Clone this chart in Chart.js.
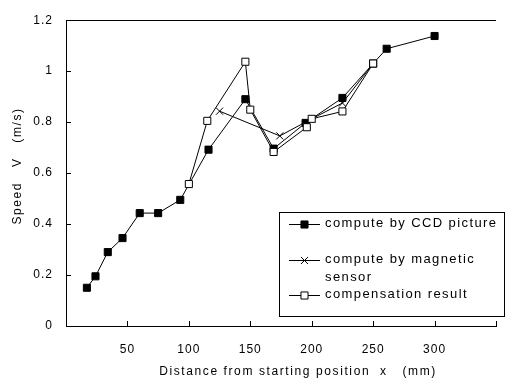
<!DOCTYPE html>
<html>
<head>
<meta charset="utf-8">
<script src="https://cdn.jsdelivr.net/npm/chart.js@4.4.1/dist/chart.umd.min.js"></script>
<style>
  html, body { margin: 0; padding: 0; background: #fff; overflow: hidden; }
  #wrap { width: 512px; height: 380px; }
</style>
</head>
<body>
<div id="wrap"><canvas id="speedChart"></canvas></div>
<script>
// ─── DATA ───────────────────────────────
// distance (mm) / speed (m/s) for each method
const ccdX  = [17, 24, 34, 46, 60, 75, 93, 116, 146, 169, 195, 225, 250, 261, 300];
const ccdV  = [0.15, 0.195, 0.29, 0.345, 0.443, 0.443, 0.495, 0.692, 0.89, 0.696, 0.797, 0.895, 1.03, 1.088, 1.138];

const magX  = [125, 174, 200, 225, 250];
const magV  = [0.843, 0.746, 0.813, 0.875, 1.03];

const compX = [100, 115, 146, 150, 169, 196, 200, 225, 250];
const compV = [0.557, 0.805, 1.037, 0.849, 0.683, 0.78, 0.813, 0.842, 1.03];

const seriesNames = ['compute by CCD picture', ['compute by magnetic', 'sensor'], 'compensation result'];
const xTickLabels = ['50', '100', '150', '200', '250', '300'];
const yTickLabels = ['0', '0.2', '0.4', '0.6', '0.8', '1', '1.2'];
const xTitle = 'Distance from starting position  x   (mm)';
const yTitle = 'Speed   V   (m/s)';

const pts = (xs, ys) => xs.map((x, i) => ({ x, y: ys[i] }));
const FONT = '"Liberation Sans", Arial, sans-serif';


// ─── WIDE LETTER SPACING FOR TICK TEXT ──
const spacing = {
  id: 'spacing',
  beforeDraw(chart) { chart.ctx.letterSpacing = '1px'; },
  afterDraw(chart)  { chart.ctx.letterSpacing = '0px'; }
};

// ─── INWARD TICKS, TITLES, LEGEND ───────
const decorations = {
  id: 'decorations',
  afterDraw(chart) {
    const { ctx, chartArea: a, scales: { x, y } } = chart;
    ctx.save();
    ctx.strokeStyle = '#000';
    ctx.lineWidth = 1;

    // tick marks pointing into the plot
    ctx.beginPath();
    y.ticks.forEach(t => {
      if (t.value === 0) return;
      const py = Math.round(y.getPixelForValue(t.value)) + 0.5;
      ctx.moveTo(a.left, py);
      ctx.lineTo(a.left + 5, py);
    });
    x.ticks.forEach(t => {
      if (t.value === 0) return;
      const px = Math.round(x.getPixelForValue(t.value)) + 0.5;
      ctx.moveTo(px, a.bottom);
      ctx.lineTo(px, a.bottom - 5);
    });
    ctx.stroke();

    // axis titles
    ctx.fillStyle = '#000';
    ctx.font = '12px ' + FONT;
    ctx.letterSpacing = '1.6px';
    ctx.textAlign = 'center';
    ctx.textBaseline = 'middle';
    ctx.fillText(xTitle, 298, 372);
    ctx.save();
    ctx.translate(18, 166);
    ctx.rotate(-Math.PI / 2);
    ctx.fillText(yTitle, 0, 0);
    ctx.restore();

    // legend box
    const bx = 279.5, by = 212.5, bw = 225, bh = 104;
    ctx.fillStyle = '#fff';
    ctx.fillRect(bx, by, bw, bh);
    ctx.strokeRect(bx, by, bw, bh);

    const rows = [[223.5], [259.5, 277], [294.5]];
    const order = [2, 1, 0];   // CCD, magnetic, compensation datasets
    ctx.font = '13px ' + FONT;
    ctx.letterSpacing = '1.4px';
    ctx.textAlign = 'left';
    rows.forEach((ys, i) => {
      const ds = chart.data.datasets[order[i]];
      const my = Math.round(ys[0]) + 0.5;
      ctx.beginPath();
      ctx.moveTo(289, my);
      ctx.lineTo(320, my);
      ctx.stroke();
      ctx.fillStyle = ds.pointBackgroundColor;
      Chart.helpers.drawPoint(ctx, {
        pointStyle: ds.pointStyle,
        radius: ds.pointRadius,
        borderWidth: 1
      }, 304.5, my);
      ctx.fillStyle = '#000';
      const label = [].concat(seriesNames[i]);
      label.forEach((s, k) => ctx.fillText(s, 325, ys[k]));
    });
    ctx.restore();
  }
};


// ─── CHART ──────────────────────────────
new Chart(document.getElementById('speedChart'), {
  type: 'scatter',
  data: {
    datasets: [
      {
        label: 'compensation result',
        data: pts(compX, compV),
        order: 0,
        showLine: true,
        borderColor: '#000',
        borderWidth: 1,
        pointStyle: 'rect',
        pointRadius: 5,
        pointBorderWidth: 1,
        pointBackgroundColor: '#fff',
        pointBorderColor: '#000'
      },
      {
        label: 'compute by magnetic sensor',
        data: pts(magX, magV),
        order: 1,
        showLine: true,
        borderColor: '#000',
        borderWidth: 1,
        pointStyle: 'crossRot',
        pointRadius: 5,
        pointBorderWidth: 1,
        pointBackgroundColor: '#000',
        pointBorderColor: '#000'
      },
      {
        label: 'compute by CCD picture',
        data: pts(ccdX, ccdV),
        order: 2,
        showLine: true,
        borderColor: '#000',
        borderWidth: 1,
        pointStyle: 'rect',
        pointRadius: 5,
        pointBorderWidth: 1,
        pointBackgroundColor: '#000',
        pointBorderColor: '#000'
      }
    ]
  },
  options: {
    responsive: true,
    maintainAspectRatio: false,
    animation: false,
    layout: { padding: { top: 12, right: 0, bottom: 0, left: 0 } },
    plugins: {
      legend: { display: false },
      tooltip: { enabled: false }
    },
    scales: {
      x: {
        type: 'linear',
        min: 0,
        max: 350,
        afterFit: s => { s.height = 54; },
        grid: { color: 'transparent', drawTicks: false },
        border: { display: true, color: '#000', width: 1 },
        ticks: {
          stepSize: 50,
          padding: 16,
          color: '#000',
          font: { family: FONT, size: 12 },
          callback: (v, i) => xTickLabels[i - 1] ?? ''
        }
      },
      y: {
        min: 0,
        max: 1.2,
        afterFit: s => { s.width = 66; },
        grid: {
          drawTicks: false,
          color: c => (c.tick && c.tick.value === 1.2) ? '#000' : 'transparent'
        },
        border: { display: true, color: '#000', width: 1 },
        ticks: {
          stepSize: 0.2,
          padding: 13,
          color: '#000',
          font: { family: FONT, size: 12 },
          callback: (v, i) => yTickLabels[i]
        }
      }
    }
  },
  plugins: [spacing, decorations]
});
</script>
</body>
</html>
